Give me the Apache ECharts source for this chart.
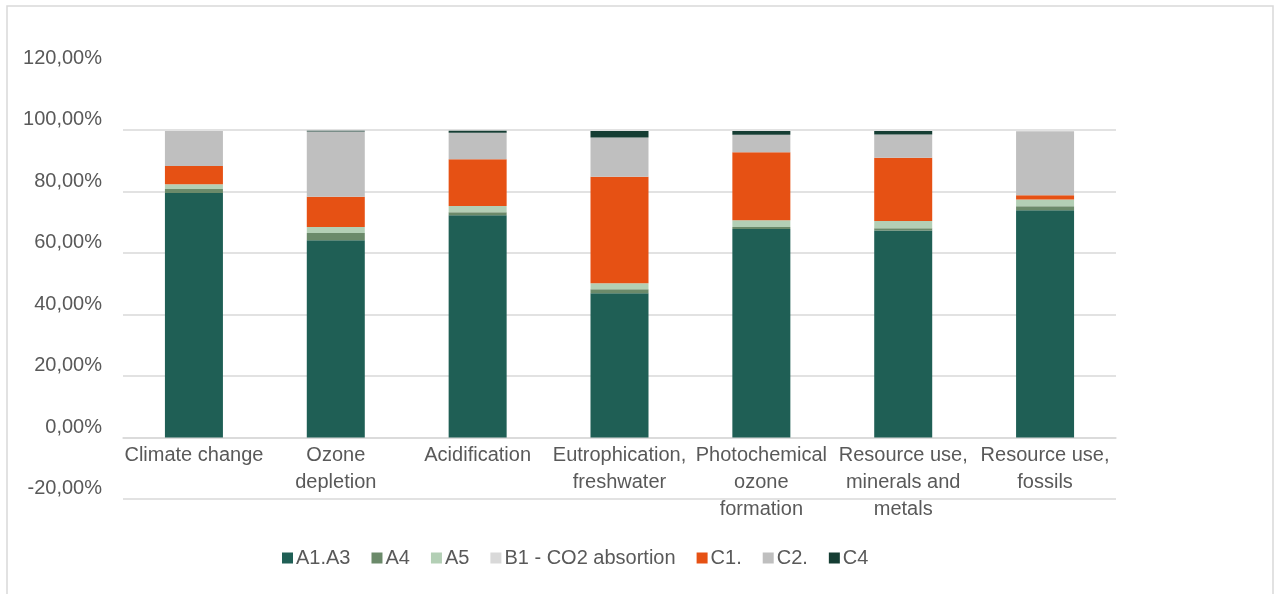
<!DOCTYPE html>
<html>
<head>
<meta charset="utf-8">
<script src="https://cdn.jsdelivr.net/npm/echarts@6/dist/echarts.min.js"></script>
<style>
html,body{margin:0;padding:0;background:#fff;}
#chart{width:1280px;height:594px;}
</style>
</head>
<body>
<div id="chart"></div>
<script>
const categories = ['Climate change', 'Ozone\ndepletion', 'Acidification', 'Eutrophication,\nfreshwater', 'Photochemical\nozone\nformation', 'Resource use,\nminerals and\nmetals', 'Resource use,\nfossils'];
const seriesNames = ['A1.A3', 'A4', 'A5', 'B1 - CO2 absortion', 'C1.', 'C2.', 'C4'];
const a1a3 = [79.5, 64.2, 72.3, 46.9, 67.8, 67.3, 73.9];
const a4   = [1.3, 2.3, 1.0, 1.3, 0.7, 0.8, 1.3];
const a5   = [1.6, 2.0, 2.0, 2.0, 2.2, 2.3, 2.2];
const b1   = [0, 0, 0, 0, 0, 0, 0];
const c1   = [5.9, 9.8, 15.2, 34.6, 22.1, 20.6, 1.4];
const c2   = [11.4, 21.2, 8.6, 12.8, 5.7, 7.6, 20.8];
const c4   = [0, 0.3, 0.7, 2.1, 1.2, 1.1, 0];
const colors = ['#1f5f55', '#6b8a6a', '#b3cfb5', '#d9d9d9', '#e65114', '#bfbfbf', '#153d33'];
const allData = [a1a3, a4, a5, b1, c1, c2, c4];

const chart = echarts.init(document.getElementById('chart'));
const font = 'Liberation Sans, Arial, sans-serif';
const gridTop = 68.6, gridBottom = 95;
const plotH = 594 - gridTop - gridBottom;
const zeroOffset = plotH * 20 / 140;
chart.setOption({
  animation: false,
  backgroundColor: '#fff',
  graphic: [{
    type: 'rect', shape: {x: 7, y: 6, width: 1266, height: 620},
    style: {fill: 'none', stroke: '#d9d9d9', lineWidth: 1.5}, silent: true
  }],
  grid: {left: 123, right: 164, top: gridTop, bottom: gridBottom, containLabel: false},
  legend: {
    data: seriesNames,
    left: 277, top: 543,
    icon: 'rect', itemWidth: 11, itemHeight: 11, itemGap: 21,
    textStyle: {fontFamily: font, fontSize: 20, color: '#595959', padding: [0,0,0,-2]}
  },
  xAxis: {
    type: 'category',
    data: categories,
    offset: -zeroOffset,
    axisLine: {show: true, onZero: false, lineStyle: {color: '#d9d9d9', width: 1.5}},
    axisTick: {show: false},
    axisLabel: {fontFamily: font, fontSize: 20, color: '#595959', lineHeight: 27, margin: 4, interval: 0}
  },
  yAxis: {
    type: 'value', min: -20, max: 120, interval: 20,
    axisLine: {show: false}, axisTick: {show: false},
    splitLine: {show: true, showMaxLine: false, lineStyle: {color: '#d9d9d9', width: 1.5}},
    axisLabel: {
      fontFamily: font, fontSize: 20, color: '#595959', margin: 21,
      verticalAlign: 'bottom', lineHeight: 21,
      formatter: v => v.toFixed(2).replace('.', ',') + '%'
    }
  },
  series: seriesNames.map((n, i) => ({
    name: n, type: 'bar', stack: 'total', barWidth: 58,
    itemStyle: {color: colors[i]},
    data: allData[i]
  }))
});
</script>
</body>
</html>
